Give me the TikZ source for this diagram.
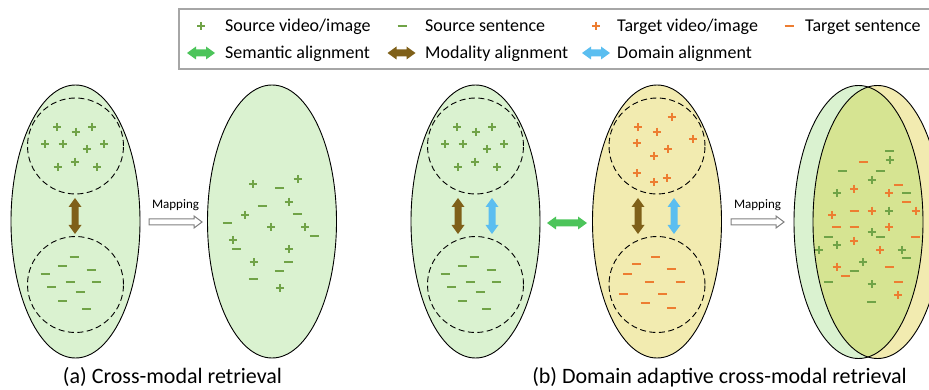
\documentclass[tikz,border=0pt]{standalone}
\usepackage{fontspec}
\setmainfont{Carlito}
\usetikzlibrary{shapes.geometric}
\definecolor{gfill}{RGB}{218,242,208}
\definecolor{yfill}{RGB}{242,235,176}
\definecolor{mixfill}{RGB}{214,228,146}
\definecolor{gmk}{RGB}{112,163,71}
\definecolor{omk}{RGB}{237,125,49}
\definecolor{brn}{RGB}{127,96,25}
\definecolor{blu}{RGB}{91,190,240}
\definecolor{grn}{RGB}{76,196,90}
\definecolor{boxgray}{RGB}{166,166,166}
\definecolor{mapgray}{RGB}{128,128,128}
\tikzset{
  ell/.style={ellipse, draw=black, line width=0.9pt, minimum width=129pt, minimum height=273pt, inner sep=0pt},
  dcirc/.style={circle, draw=black, line width=0.9pt, dash pattern=on 6pt off 3.5pt, minimum size=96pt, inner sep=0pt},
  gm/.style={draw=gmk, line width=1.8pt},
  om/.style={draw=omk, line width=1.8pt},
  legtext/.style={anchor=base west, inner sep=0pt, font=\fontsize{18}{18}\selectfont},
  captext/.style={anchor=base, inner sep=0pt, font=\fontsize{22}{22}\selectfont},
  maptext/.style={inner sep=0pt, font=\fontsize{13}{13}\selectfont},
  darr/.pic={\path[pic actions] (-#1/2,0) -- (-#1/2+9,-6.5) -- (-#1/2+9,-3.5) -- (#1/2-9,-3.5) -- (#1/2-9,-6.5) -- (#1/2,0) -- (#1/2-9,6.5) -- (#1/2-9,3.5) -- (-#1/2+9,3.5) -- (-#1/2+9,6.5) -- cycle;},
  maparr/.pic={\path[draw=mapgray, fill=white, line width=1pt] (-26.5,-3) -- (18.5,-3) -- (18.5,-6) -- (26.5,0) -- (18.5,6) -- (18.5,3) -- (-26.5,3) -- cycle;}
}
\newcommand\pp[3]{\draw[#1] (#2,#3) +(-4,0) -- +(4,0) +(0,-4) -- +(0,4);}
\newcommand\mm[3]{\draw[#1] (#2,#3) +(-4.5,0) -- +(4.5,0);}
\begin{document}
\begin{tikzpicture}[x=1pt,y=-1pt]
\useasboundingbox (0,0) rectangle (929,390);
% legend
\draw[boxgray, line width=1.2pt] (945,9) -- (179,9) -- (179,69) -- (945,69);
\pp{gm}{201}{26}
\node[legtext] (l1) at (225,32) {Source video/image};
\mm{gm}{402}{26}
\node[legtext] (l2) at (425,32) {Source sentence};
\pp{om}{596}{26}
\node[legtext] (l3) at (617,32) {Target video/image};
\mm{om}{789}{26}
\node[legtext] (l4) at (805,32) {Target sentence};
\pic[fill=grn] at (201,53) {darr=28};
\node[legtext] (l5) at (225,59) {Semantic alignment};
\pic[fill=brn] at (401.5,53) {darr=28};
\node[legtext] (l6) at (425,59) {Modality alignment};
\pic[fill=blu] at (596,53) {darr=28};
\node[legtext] (l7) at (617,59) {Domain alignment};

% (a)
\node[ell, fill=gfill] (a1) at (75.5,221.5) {};
\node[dcirc] (a1t) at (75.5,146) {};
\node[dcirc] (a1b) at (75.5,284.5) {};
\pic[fill=brn, rotate=90] at (75,216) {darr=36};
\node[ell, fill=gfill] (a2) at (272,221.5) {};
\node[maptext] (m1) at (175.5,205) {Mapping};
\pic at (175.5,222) {maparr};

% (b)
\node[ell, fill=gfill] (b1) at (475.5,221.5) {};
\node[dcirc] (b1t) at (475.5,146) {};
\node[dcirc] (b1b) at (475.5,284.5) {};
\pic[fill=brn, rotate=90] at (458,216) {darr=36};
\pic[fill=blu, rotate=90] at (492,216) {darr=36};
\pic[fill=grn] at (567,223) {darr=40};
\node[ell, fill=yfill] (b2) at (657,221.5) {};
\node[dcirc] (b2t) at (657,146) {};
\node[dcirc] (b2b) at (657,284.5) {};
\pic[fill=brn, rotate=90] at (638,216) {darr=36};
\pic[fill=blu, rotate=90] at (674,216) {darr=36};

% marks in green source ellipses
\foreach \x/\y in {57.3/127.3,75.7/131.7,92.3/127.3,45/144,62.7/144,86.7/149,104/144,57.7/166.7,75/161.7,97.3/166.7}{
  \pp{gm}{\x}{\y}
  \pp{gm}{\x+400}{\y}
}
\foreach \x/\y in {74/256.7,62.3/265.7,91/270,45/274.3,70/282.3,96.7/282.3,51.7/287.3,80/291.7,62.7/300.7,86.7/308.7}{
  \mm{gm}{\x}{\y}
  \mm{gm}{\x+400}{\y}
}
% marks in mapped ellipse (a)
\foreach \x/\y in {253.3/184.3,297.7/179.3,288.7/201.7,245/215,271.3/227,305.3/227.3,233/240,288.7/249,253.7/262.3,280/288.3}{\pp{gm}{\x}{\y}}
\foreach \x/\y in {279.3/188.3,262.3/205.7,297.3/214.3,227.3/223.3,314.3/235.7,236.7/249.3,288.7/262.3,279.3/270.7,253.3/279.3}{\mm{gm}{\x}{\y}}
% marks in target ellipse
\foreach \x/\y in {671.7/116.7,638.3/127.3,656.7/131.7,636.7/142.7,693.3/139,668.3/149,654/156,636.7/173.3,654/182.3,666.7/177.7}{\pp{om}{\x}{\y}}
\foreach \x/\y in {655.7/256.7,636.7/264.3,671/269,627.7/274.3,649.3/281.7,680/281.7,623.3/294.3,662.7/294.3,645/303.3,671.7/307.7}{\mm{om}{\x}{\y}}

\node[captext] (capa) at (172.5,383) {(a) Cross-modal retrieval};

\node[maptext] (m2) at (757.5,205) {Mapping};
\pic at (757.5,222) {maparr};

% overlapping ellipses
\node[ell, fill=gfill, draw=none] (b3g) at (858.5,222) {};
\node[ell, fill=yfill, draw=none] (b3y) at (877.5,222) {};
\begin{scope}
  \clip (858.5,222) ellipse [x radius=64.5, y radius=136.5];
  \fill[mixfill] (877.5,222) ellipse [x radius=64.5, y radius=136.5];
\end{scope}
\draw[line width=0.9pt] (858.5,222) ellipse [x radius=64.5, y radius=136.5];
\draw[line width=0.9pt] (877.5,222) ellipse [x radius=64.5, y radius=136.5];
\foreach \x/\y in {889.7/160.3,871.7/180,836.7/193.3,889.3/210.7,871.7/232.3,836.7/245,819.3/250,901.7/250,863.3/262.3,871.7/284.3}{\pp{gm}{\x}{\y}}
\foreach \x/\y in {889.7/151.3,842.3/171,880.3/171,906.7/193.3,880.3/236.7,828.3/236.7,906.7/258.3,854/270.7,828.3/281.7,871.7/301.7}{\mm{gm}{\x}{\y}}
\foreach \x/\y in {854/188.7,889.3/193.3,832/215,871.7/210.7,915.7/210.7,889.3/227.3,854/240.7,880.3/250,836.7/266.7,898.3/295}{\pp{om}{\x}{\y}}
\foreach \x/\y in {863.3/162.3,898.3/184.7,906.7/201.7,854/210.7,836.7/227.3,854/227.3,915.7/236.7,845.3/275.7,889.3/266.7,898.3/281.7}{\mm{om}{\x}{\y}}

\node[captext] (capb) at (719.5,383) {(b) Domain adaptive cross-modal retrieval};
\end{tikzpicture}
\end{document}
